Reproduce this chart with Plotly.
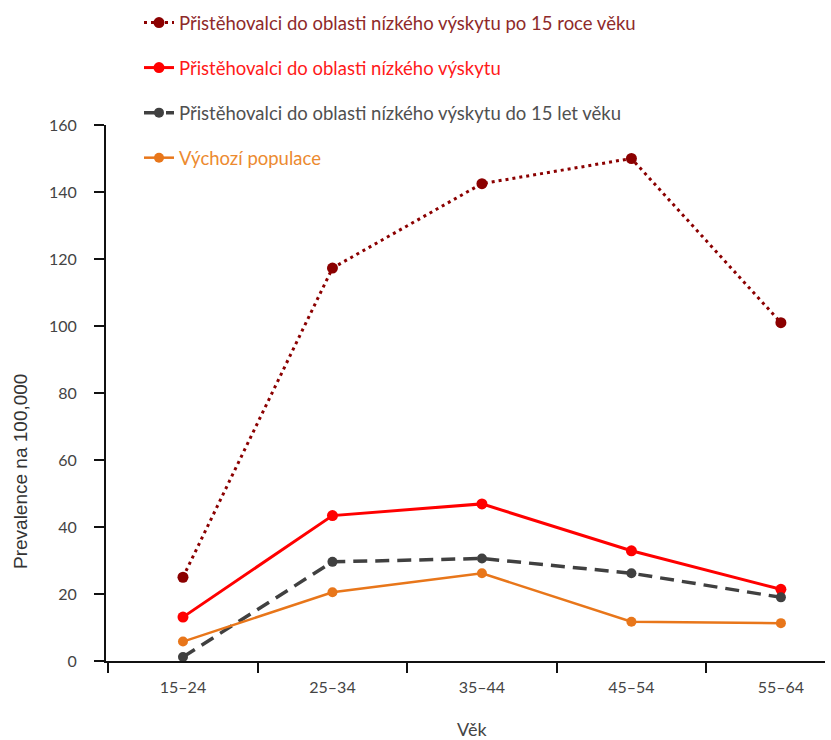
import plotly.graph_objects as go

categories = ["15–24", "25–34", "35–44", "45–54", "55–64"]
after15 = [25, 117.3, 142.5, 150, 101]
all_migrants = [13.1, 43.4, 46.9, 32.9, 21.4]
before15 = [1.2, 29.6, 30.6, 26.2, 19.0]
baseline = [5.8, 20.5, 26.2, 11.7, 11.3]

series_names = [
    "Přistěhovalci do oblasti nízkého výskytu po 15 roce věku",
    "Přistěhovalci do oblasti nízkého výskytu",
    "Přistěhovalci do oblasti nízkého výskytu do 15 let věku",
    "Výchozí populace",
]
y_ticks = [0, 20, 40, 60, 80, 100, 120, 140, 160]
x_title = "Věk"
y_title = "Prevalence na 100,000"

line_colors = ["#8B0000", "#FF0000", "#404040", "#E8761A"]
text_colors = ["#8E2A2A", "#FF1A1A", "#505050", "#EC8A30"]
dashes = ["3px,4px", "solid", "14px,8px", "solid"]
widths = [3, 3, 3.5, 2.5]
msizes = [11, 11, 10, 10]

fig = go.Figure()
for i, vals in enumerate([after15, all_migrants, before15, baseline]):
    fig.add_trace(go.Scatter(
        x=categories, y=vals, mode="lines+markers",
        name=f'<span style="color:{text_colors[i]}">{series_names[i]}</span>',
        legendgroup=f"g{i}",
        line=dict(color=line_colors[i], width=widths[i], dash=dashes[i]),
        marker=dict(color=line_colors[i], size=msizes[i]),
    ))

fig.update_layout(
    width=831, height=740,
    margin=dict(l=106, r=6, t=125, b=79, autoexpand=False),
    paper_bgcolor="white", plot_bgcolor="white",
    font=dict(family="Lato, sans-serif", size=16, color="#444444"),
    showlegend=True,
    legend=dict(
        xref="container", yref="container",
        x=139 / 831, y=1 - 4 / 740, xanchor="left", yanchor="top",
        font=dict(family="Lato, sans-serif", size=18.5),
        tracegroupgap=18, bgcolor="rgba(0,0,0,0)",
    ),
    xaxis=dict(
        type="category", range=[-0.515, 4.295],
        showline=True, linecolor="#111111", linewidth=2,
        ticks="outside", tickson="boundaries", ticklen=10, tickwidth=2, tickcolor="#111111",
        showgrid=False, zeroline=False, tickangle=0, ticklabelstandoff=11,
        tickfont=dict(family="Lato, sans-serif", size=16, color="#444444"),
    ),
    yaxis=dict(
        range=[0, 160], tickvals=y_ticks,
        showline=True, linecolor="#111111", linewidth=2,
        ticks="outside", ticklen=10, tickwidth=2, tickcolor="#111111",
        showgrid=False, zeroline=False, ticklabelstandoff=14,
        tickfont=dict(family="Lato, sans-serif", size=16, color="#444444"),
    ),
    annotations=[
        dict(text=x_title, xref="paper", yref="paper", x=(472 - 106) / 719, y=-(729 - 661) / 536,
             xanchor="center", yanchor="middle", showarrow=False,
             font=dict(family="Lato, sans-serif", size=18, color="#444444")),
        dict(text=y_title, xref="paper", yref="paper", x=(20 - 106) / 719, y=(661 - 472) / 536,
             xanchor="center", yanchor="middle", showarrow=False, textangle=-90,
             font=dict(family="Liberation Sans, Arial, sans-serif", size=19, color="#333333")),
    ],
)

fig.write_html("out.html", config={"displayModeBar": False},
               post_script="document.body.style.margin='0px';")
